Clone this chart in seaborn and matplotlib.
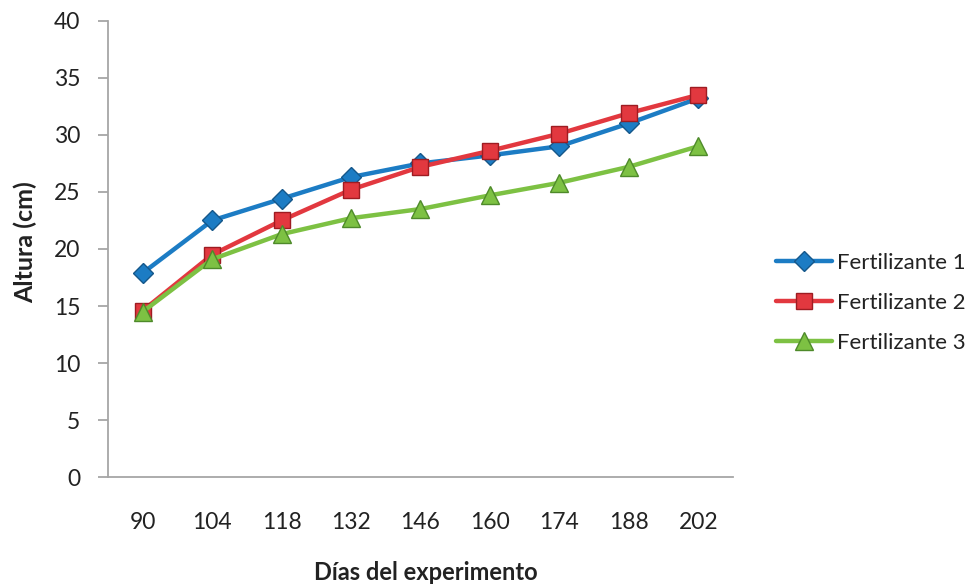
import matplotlib
matplotlib.use("Agg")
import matplotlib.pyplot as plt
import seaborn as sns
import pandas as pd

dias = ["90", "104", "118", "132", "146", "160", "174", "188", "202"]
fert1 = [17.9, 22.5, 24.4, 26.3, 27.5, 28.2, 29.0, 31.0, 33.2]
fert2 = [14.6, 19.5, 22.5, 25.2, 27.2, 28.6, 30.1, 31.9, 33.5]
fert3 = [14.5, 19.1, 21.3, 22.7, 23.5, 24.7, 25.8, 27.2, 29.0]
series_names = ["Fertilizante 1", "Fertilizante 2", "Fertilizante 3"]

rows = []
for name, vals in zip(series_names, [fert1, fert2, fert3]):
    for d, v in zip(dias, vals):
        rows.append({"Días": d, "Altura": v, "Serie": name})
df = pd.DataFrame(rows)

sns.set_theme(style="white")
plt.rcParams["font.family"] = ["Lato", "DejaVu Sans"]

fig = plt.figure(figsize=(9.67, 5.88), dpi=100)
ax = fig.add_axes([0.1117, 0.1883, 0.758 - 0.1117, 0.9648 - 0.1883])

palette = {"Fertilizante 1": "#1C7CC4", "Fertilizante 2": "#E2383F", "Fertilizante 3": "#7DC143"}
edges = {"Fertilizante 1": "#15578A", "Fertilizante 2": "#9E1C22", "Fertilizante 3": "#4E8A2A"}
markers = {"Fertilizante 1": "D", "Fertilizante 2": "s", "Fertilizante 3": "^"}
msize = {"Fertilizante 1": 10.5, "Fertilizante 2": 11, "Fertilizante 3": 12.5}

for name in series_names:
    sub = df[df["Serie"] == name]
    sns.lineplot(data=sub, x="Días", y="Altura", ax=ax, color=palette[name],
                 linewidth=3.2, marker=markers[name], markersize=msize[name],
                 markeredgecolor=edges[name], markeredgewidth=1.0,
                 label=name, sort=False)

ax.set_xlim(-0.5, 8.5)
ax.set_ylim(0, 40)
ax.set_yticks(range(0, 41, 5))
for s in ["top", "right"]:
    ax.spines[s].set_visible(False)
for s in ["left", "bottom"]:
    ax.spines[s].set_color("#A6A6A6")
    ax.spines[s].set_linewidth(1.3)
ax.tick_params(axis="y", which="major", left=True, length=7, width=1.3,
               color="#A6A6A6", labelsize=16.5, labelcolor="#222222", pad=13)
ax.tick_params(axis="x", which="major", bottom=False, labelsize=16.5,
               labelcolor="#222222", pad=19)
ax.grid(False)

ax.set_xlabel("Días del experimento", fontsize=17, fontweight="bold",
              color="#222222")
ax.set_ylabel("Altura (cm)", fontsize=18, fontweight="bold",
              color="#222222")
ax.xaxis.set_label_coords((425 - 108) / 624, (477.3 - 561) / 456.6)
ax.yaxis.set_label_coords((37 - 108) / 624, (477.3 - 242) / 456.6)

leg = ax.legend(loc="center left", bbox_to_anchor=(1.037, 0.382), frameon=False,
                fontsize=16, handlelength=2.5, handletextpad=0.25,
                labelspacing=0.9)
for t in leg.get_texts():
    t.set_color("#222222")

fig.savefig("out.png", dpi=100)
